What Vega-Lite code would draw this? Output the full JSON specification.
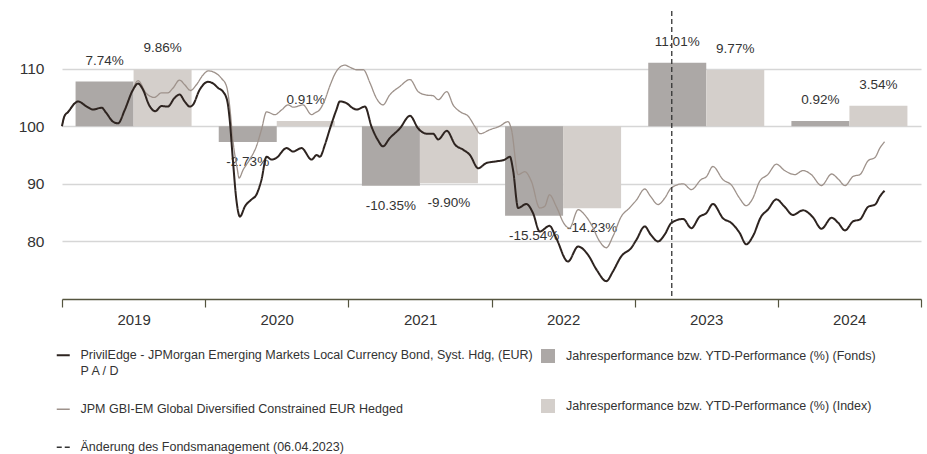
{
  "$schema": "https://vega.github.io/schema/vega-lite/v6.json",
  "width": 859,
  "height": 288,
  "autosize": {"type": "none"},
  "padding": {"left": 62, "top": 11, "right": 6, "bottom": 155},
  "background": "white",
  "config": {"view": {"stroke": null}, "font": "Liberation Sans"},
  "datasets": {
    "bars": [
      {"year": "2019", "type": "Jahresperformance bzw. YTD-Performance (%) (Fonds)", "pct": 7.74, "label": "7.74%"},
      {"year": "2019", "type": "Jahresperformance bzw. YTD-Performance (%) (Index)", "pct": 9.86, "label": "9.86%"},
      {"year": "2020", "type": "Jahresperformance bzw. YTD-Performance (%) (Fonds)", "pct": -2.73, "label": "-2.73%"},
      {"year": "2020", "type": "Jahresperformance bzw. YTD-Performance (%) (Index)", "pct": 0.91, "label": "0.91%"},
      {"year": "2021", "type": "Jahresperformance bzw. YTD-Performance (%) (Fonds)", "pct": -10.35, "label": "-10.35%"},
      {"year": "2021", "type": "Jahresperformance bzw. YTD-Performance (%) (Index)", "pct": -9.90, "label": "-9.90%"},
      {"year": "2022", "type": "Jahresperformance bzw. YTD-Performance (%) (Fonds)", "pct": -15.54, "label": "-15.54%"},
      {"year": "2022", "type": "Jahresperformance bzw. YTD-Performance (%) (Index)", "pct": -14.23, "label": "-14.23%"},
      {"year": "2023", "type": "Jahresperformance bzw. YTD-Performance (%) (Fonds)", "pct": 11.01, "label": "11.01%"},
      {"year": "2023", "type": "Jahresperformance bzw. YTD-Performance (%) (Index)", "pct": 9.77, "label": "9.77%"},
      {"year": "2024", "type": "Jahresperformance bzw. YTD-Performance (%) (Fonds)", "pct": 0.92, "label": "0.92%"},
      {"year": "2024", "type": "Jahresperformance bzw. YTD-Performance (%) (Index)", "pct": 3.54, "label": "3.54%"}
    ],
    "events": [{"d": "2023-04-06", "s": "change"}],
    "lines": [
      {"d": "2019-01-01", "s": "fund", "v": 100.0},
      {"d": "2019-01-07", "s": "fund", "v": 101.7},
      {"d": "2019-01-17", "s": "fund", "v": 102.5},
      {"d": "2019-02-03", "s": "fund", "v": 104.0},
      {"d": "2019-02-11", "s": "fund", "v": 104.3},
      {"d": "2019-03-05", "s": "fund", "v": 103.4},
      {"d": "2019-03-21", "s": "fund", "v": 102.9},
      {"d": "2019-04-12", "s": "fund", "v": 103.2},
      {"d": "2019-04-24", "s": "fund", "v": 102.3},
      {"d": "2019-05-11", "s": "fund", "v": 100.8},
      {"d": "2019-05-24", "s": "fund", "v": 100.5},
      {"d": "2019-06-10", "s": "fund", "v": 102.8},
      {"d": "2019-07-01", "s": "fund", "v": 106.3},
      {"d": "2019-07-14", "s": "fund", "v": 107.4},
      {"d": "2019-07-27", "s": "fund", "v": 106.3},
      {"d": "2019-08-11", "s": "fund", "v": 103.7},
      {"d": "2019-08-27", "s": "fund", "v": 102.6},
      {"d": "2019-09-12", "s": "fund", "v": 103.5},
      {"d": "2019-09-28", "s": "fund", "v": 103.4},
      {"d": "2019-10-15", "s": "fund", "v": 104.9},
      {"d": "2019-10-28", "s": "fund", "v": 105.5},
      {"d": "2019-11-10", "s": "fund", "v": 104.3},
      {"d": "2019-11-23", "s": "fund", "v": 103.4},
      {"d": "2019-12-01", "s": "fund", "v": 103.7},
      {"d": "2019-12-18", "s": "fund", "v": 106.3},
      {"d": "2020-01-09", "s": "fund", "v": 107.7},
      {"d": "2020-01-22", "s": "fund", "v": 107.4},
      {"d": "2020-02-04", "s": "fund", "v": 106.6},
      {"d": "2020-02-16", "s": "fund", "v": 106.0},
      {"d": "2020-02-27", "s": "fund", "v": 104.3},
      {"d": "2020-03-04", "s": "fund", "v": 101.1},
      {"d": "2020-03-12", "s": "fund", "v": 94.2},
      {"d": "2020-03-21", "s": "fund", "v": 87.2},
      {"d": "2020-03-30", "s": "fund", "v": 84.3},
      {"d": "2020-04-12", "s": "fund", "v": 86.1},
      {"d": "2020-04-29", "s": "fund", "v": 87.3},
      {"d": "2020-05-11", "s": "fund", "v": 88.1},
      {"d": "2020-05-24", "s": "fund", "v": 90.7},
      {"d": "2020-06-06", "s": "fund", "v": 94.7},
      {"d": "2020-06-19", "s": "fund", "v": 94.2},
      {"d": "2020-07-01", "s": "fund", "v": 94.5},
      {"d": "2020-07-27", "s": "fund", "v": 96.2},
      {"d": "2020-08-13", "s": "fund", "v": 95.6},
      {"d": "2020-09-03", "s": "fund", "v": 96.2},
      {"d": "2020-09-29", "s": "fund", "v": 94.2},
      {"d": "2020-10-12", "s": "fund", "v": 95.0},
      {"d": "2020-10-20", "s": "fund", "v": 94.7},
      {"d": "2020-11-02", "s": "fund", "v": 96.8},
      {"d": "2020-11-14", "s": "fund", "v": 99.4},
      {"d": "2020-12-01", "s": "fund", "v": 102.8},
      {"d": "2020-12-10", "s": "fund", "v": 104.3},
      {"d": "2020-12-27", "s": "fund", "v": 104.0},
      {"d": "2021-01-13", "s": "fund", "v": 103.1},
      {"d": "2021-01-22", "s": "fund", "v": 102.9},
      {"d": "2021-02-12", "s": "fund", "v": 103.4},
      {"d": "2021-03-01", "s": "fund", "v": 99.9},
      {"d": "2021-03-17", "s": "fund", "v": 97.6},
      {"d": "2021-03-30", "s": "fund", "v": 96.5},
      {"d": "2021-04-16", "s": "fund", "v": 97.9},
      {"d": "2021-05-12", "s": "fund", "v": 99.6},
      {"d": "2021-06-07", "s": "fund", "v": 101.8},
      {"d": "2021-06-28", "s": "fund", "v": 99.6},
      {"d": "2021-07-19", "s": "fund", "v": 98.7},
      {"d": "2021-08-05", "s": "fund", "v": 98.7},
      {"d": "2021-08-18", "s": "fund", "v": 97.7},
      {"d": "2021-09-09", "s": "fund", "v": 99.2},
      {"d": "2021-09-30", "s": "fund", "v": 96.8},
      {"d": "2021-10-21", "s": "fund", "v": 95.9},
      {"d": "2021-11-07", "s": "fund", "v": 95.0},
      {"d": "2021-11-28", "s": "fund", "v": 92.7},
      {"d": "2021-12-19", "s": "fund", "v": 93.6},
      {"d": "2022-01-14", "s": "fund", "v": 93.9},
      {"d": "2022-02-04", "s": "fund", "v": 94.2},
      {"d": "2022-02-17", "s": "fund", "v": 94.7},
      {"d": "2022-02-25", "s": "fund", "v": 92.4},
      {"d": "2022-03-10", "s": "fund", "v": 85.8},
      {"d": "2022-03-31", "s": "fund", "v": 86.5},
      {"d": "2022-04-17", "s": "fund", "v": 84.9},
      {"d": "2022-05-04", "s": "fund", "v": 81.7},
      {"d": "2022-05-29", "s": "fund", "v": 82.7},
      {"d": "2022-06-15", "s": "fund", "v": 80.6},
      {"d": "2022-07-15", "s": "fund", "v": 76.5},
      {"d": "2022-08-10", "s": "fund", "v": 79.1},
      {"d": "2022-09-04", "s": "fund", "v": 77.7},
      {"d": "2022-09-26", "s": "fund", "v": 75.1},
      {"d": "2022-10-21", "s": "fund", "v": 73.1},
      {"d": "2022-11-07", "s": "fund", "v": 74.8},
      {"d": "2022-11-28", "s": "fund", "v": 77.4},
      {"d": "2022-12-24", "s": "fund", "v": 78.9},
      {"d": "2023-01-06", "s": "fund", "v": 80.3},
      {"d": "2023-01-27", "s": "fund", "v": 82.6},
      {"d": "2023-02-11", "s": "fund", "v": 81.2},
      {"d": "2023-03-02", "s": "fund", "v": 80.0},
      {"d": "2023-03-19", "s": "fund", "v": 81.2},
      {"d": "2023-04-05", "s": "fund", "v": 83.2},
      {"d": "2023-05-05", "s": "fund", "v": 83.9},
      {"d": "2023-05-26", "s": "fund", "v": 82.3},
      {"d": "2023-06-16", "s": "fund", "v": 84.3},
      {"d": "2023-07-03", "s": "fund", "v": 84.9},
      {"d": "2023-07-20", "s": "fund", "v": 86.5},
      {"d": "2023-08-15", "s": "fund", "v": 84.0},
      {"d": "2023-09-05", "s": "fund", "v": 83.2},
      {"d": "2023-09-26", "s": "fund", "v": 81.5},
      {"d": "2023-10-13", "s": "fund", "v": 79.5},
      {"d": "2023-10-30", "s": "fund", "v": 80.9},
      {"d": "2023-11-20", "s": "fund", "v": 84.3},
      {"d": "2023-12-07", "s": "fund", "v": 85.5},
      {"d": "2023-12-29", "s": "fund", "v": 87.3},
      {"d": "2024-01-19", "s": "fund", "v": 86.0},
      {"d": "2024-02-09", "s": "fund", "v": 84.6},
      {"d": "2024-03-06", "s": "fund", "v": 85.4},
      {"d": "2024-03-31", "s": "fund", "v": 84.2},
      {"d": "2024-04-22", "s": "fund", "v": 82.2},
      {"d": "2024-05-18", "s": "fund", "v": 84.1},
      {"d": "2024-06-04", "s": "fund", "v": 83.2},
      {"d": "2024-06-21", "s": "fund", "v": 81.9},
      {"d": "2024-07-12", "s": "fund", "v": 83.5},
      {"d": "2024-07-29", "s": "fund", "v": 83.8},
      {"d": "2024-08-19", "s": "fund", "v": 86.0},
      {"d": "2024-09-06", "s": "fund", "v": 86.4},
      {"d": "2024-09-18", "s": "fund", "v": 87.8},
      {"d": "2024-09-30", "s": "fund", "v": 88.8},
      {"d": "2019-01-01", "s": "index", "v": 100.0},
      {"d": "2019-01-07", "s": "index", "v": 101.7},
      {"d": "2019-01-17", "s": "index", "v": 102.5},
      {"d": "2019-02-03", "s": "index", "v": 104.0},
      {"d": "2019-02-11", "s": "index", "v": 104.3},
      {"d": "2019-03-05", "s": "index", "v": 103.4},
      {"d": "2019-03-21", "s": "index", "v": 102.9},
      {"d": "2019-04-12", "s": "index", "v": 103.2},
      {"d": "2019-04-24", "s": "index", "v": 102.3},
      {"d": "2019-05-11", "s": "index", "v": 100.8},
      {"d": "2019-05-24", "s": "index", "v": 100.5},
      {"d": "2019-06-10", "s": "index", "v": 102.8},
      {"d": "2019-07-01", "s": "index", "v": 106.5},
      {"d": "2019-07-14", "s": "index", "v": 107.9},
      {"d": "2019-08-04", "s": "index", "v": 105.7},
      {"d": "2019-08-25", "s": "index", "v": 105.0},
      {"d": "2019-09-12", "s": "index", "v": 105.8},
      {"d": "2019-09-28", "s": "index", "v": 105.8},
      {"d": "2019-10-11", "s": "index", "v": 106.6},
      {"d": "2019-10-28", "s": "index", "v": 108.0},
      {"d": "2019-11-10", "s": "index", "v": 107.2},
      {"d": "2019-11-25", "s": "index", "v": 106.2},
      {"d": "2019-12-10", "s": "index", "v": 107.2},
      {"d": "2019-12-27", "s": "index", "v": 108.9},
      {"d": "2020-01-09", "s": "index", "v": 109.6},
      {"d": "2020-01-26", "s": "index", "v": 109.3},
      {"d": "2020-02-12", "s": "index", "v": 108.3},
      {"d": "2020-02-25", "s": "index", "v": 106.9},
      {"d": "2020-03-04", "s": "index", "v": 103.4},
      {"d": "2020-03-12", "s": "index", "v": 97.6},
      {"d": "2020-03-23", "s": "index", "v": 92.7},
      {"d": "2020-03-28", "s": "index", "v": 91.0},
      {"d": "2020-04-07", "s": "index", "v": 92.4},
      {"d": "2020-04-24", "s": "index", "v": 94.2},
      {"d": "2020-05-11", "s": "index", "v": 96.5},
      {"d": "2020-05-24", "s": "index", "v": 99.4},
      {"d": "2020-06-06", "s": "index", "v": 102.5},
      {"d": "2020-06-27", "s": "index", "v": 102.0},
      {"d": "2020-07-14", "s": "index", "v": 102.8},
      {"d": "2020-07-31", "s": "index", "v": 103.7},
      {"d": "2020-08-13", "s": "index", "v": 103.3},
      {"d": "2020-09-07", "s": "index", "v": 103.7},
      {"d": "2020-09-29", "s": "index", "v": 102.0},
      {"d": "2020-10-07", "s": "index", "v": 102.3},
      {"d": "2020-10-20", "s": "index", "v": 102.9},
      {"d": "2020-11-02", "s": "index", "v": 104.6},
      {"d": "2020-11-14", "s": "index", "v": 106.9},
      {"d": "2020-12-01", "s": "index", "v": 109.5},
      {"d": "2020-12-22", "s": "index", "v": 110.6},
      {"d": "2021-01-09", "s": "index", "v": 110.1},
      {"d": "2021-01-22", "s": "index", "v": 109.8},
      {"d": "2021-02-08", "s": "index", "v": 109.8},
      {"d": "2021-02-25", "s": "index", "v": 107.5},
      {"d": "2021-03-13", "s": "index", "v": 104.9},
      {"d": "2021-03-30", "s": "index", "v": 103.7},
      {"d": "2021-04-16", "s": "index", "v": 105.4},
      {"d": "2021-05-12", "s": "index", "v": 106.9},
      {"d": "2021-06-07", "s": "index", "v": 108.1},
      {"d": "2021-06-28", "s": "index", "v": 106.0},
      {"d": "2021-07-19", "s": "index", "v": 105.4},
      {"d": "2021-08-05", "s": "index", "v": 105.3},
      {"d": "2021-08-18", "s": "index", "v": 104.6},
      {"d": "2021-09-09", "s": "index", "v": 106.0},
      {"d": "2021-09-25", "s": "index", "v": 103.7},
      {"d": "2021-10-13", "s": "index", "v": 102.5},
      {"d": "2021-11-03", "s": "index", "v": 101.7},
      {"d": "2021-11-20", "s": "index", "v": 99.9},
      {"d": "2021-12-03", "s": "index", "v": 98.7},
      {"d": "2021-12-28", "s": "index", "v": 99.4},
      {"d": "2022-01-22", "s": "index", "v": 100.0},
      {"d": "2022-02-12", "s": "index", "v": 100.8},
      {"d": "2022-02-21", "s": "index", "v": 99.4},
      {"d": "2022-03-10", "s": "index", "v": 91.6},
      {"d": "2022-03-27", "s": "index", "v": 92.1},
      {"d": "2022-04-13", "s": "index", "v": 90.4},
      {"d": "2022-05-04", "s": "index", "v": 85.8},
      {"d": "2022-05-17", "s": "index", "v": 86.1},
      {"d": "2022-05-29", "s": "index", "v": 88.1},
      {"d": "2022-06-15", "s": "index", "v": 86.1},
      {"d": "2022-07-07", "s": "index", "v": 82.9},
      {"d": "2022-07-19", "s": "index", "v": 82.3},
      {"d": "2022-08-10", "s": "index", "v": 85.5},
      {"d": "2022-08-27", "s": "index", "v": 84.6},
      {"d": "2022-09-13", "s": "index", "v": 82.9},
      {"d": "2022-10-04", "s": "index", "v": 80.0},
      {"d": "2022-10-21", "s": "index", "v": 78.9},
      {"d": "2022-11-07", "s": "index", "v": 80.9},
      {"d": "2022-11-28", "s": "index", "v": 84.3},
      {"d": "2022-12-19", "s": "index", "v": 85.8},
      {"d": "2023-01-06", "s": "index", "v": 87.2},
      {"d": "2023-01-27", "s": "index", "v": 89.1},
      {"d": "2023-02-11", "s": "index", "v": 87.8},
      {"d": "2023-03-02", "s": "index", "v": 86.4},
      {"d": "2023-03-19", "s": "index", "v": 87.5},
      {"d": "2023-04-05", "s": "index", "v": 89.3},
      {"d": "2023-05-05", "s": "index", "v": 90.0},
      {"d": "2023-05-26", "s": "index", "v": 89.0},
      {"d": "2023-06-21", "s": "index", "v": 90.8},
      {"d": "2023-07-03", "s": "index", "v": 91.2},
      {"d": "2023-07-20", "s": "index", "v": 93.0},
      {"d": "2023-08-15", "s": "index", "v": 90.7},
      {"d": "2023-09-05", "s": "index", "v": 89.8},
      {"d": "2023-09-26", "s": "index", "v": 87.5},
      {"d": "2023-10-13", "s": "index", "v": 86.2},
      {"d": "2023-10-30", "s": "index", "v": 87.5},
      {"d": "2023-11-16", "s": "index", "v": 90.4},
      {"d": "2023-12-07", "s": "index", "v": 91.6},
      {"d": "2023-12-29", "s": "index", "v": 93.4},
      {"d": "2024-01-19", "s": "index", "v": 92.3},
      {"d": "2024-02-14", "s": "index", "v": 91.6},
      {"d": "2024-03-06", "s": "index", "v": 92.3},
      {"d": "2024-03-27", "s": "index", "v": 91.6},
      {"d": "2024-04-22", "s": "index", "v": 89.7},
      {"d": "2024-05-18", "s": "index", "v": 91.7},
      {"d": "2024-06-04", "s": "index", "v": 90.8},
      {"d": "2024-06-21", "s": "index", "v": 89.7},
      {"d": "2024-07-12", "s": "index", "v": 91.3},
      {"d": "2024-07-29", "s": "index", "v": 91.6},
      {"d": "2024-08-19", "s": "index", "v": 94.0},
      {"d": "2024-09-06", "s": "index", "v": 94.6},
      {"d": "2024-09-18", "s": "index", "v": 96.2},
      {"d": "2024-09-30", "s": "index", "v": 97.3}
    ]
  },
  "layer": [
    {
      "data": {"name": "bars"},
      "encoding": {
        "x": {"field": "year", "type": "ordinal", "scale": {"domain": ["2019", "2020", "2021", "2022", "2023", "2024"], "paddingInner": 0, "paddingOuter": 0}, "axis": null},
        "xOffset": {"field": "type", "type": "nominal", "scale": {"domain": ["Jahresperformance bzw. YTD-Performance (%) (Fonds)", "Jahresperformance bzw. YTD-Performance (%) (Index)"], "paddingInner": 0, "paddingOuter": 0.234}},
        "y": {"field": "pct", "type": "quantitative", "scale": {"domain": [-30, 20], "nice": false, "zero": false}, "axis": null}
      },
      "layer": [
        {
          "mark": {"type": "bar"},
          "encoding": {
            "fill": {
              "field": "type", "type": "nominal",
              "scale": {"domain": ["Jahresperformance bzw. YTD-Performance (%) (Fonds)", "Jahresperformance bzw. YTD-Performance (%) (Index)"], "range": ["#aca8a6", "#d4cfcb"]},
              "legend": {
                "title": null, "orient": "none", "legendX": 479, "legendY": 338, "direction": "vertical",
                "symbolType": "square", "symbolSize": 196, "symbolStrokeWidth": 0, "labelOffset": 11,
                "labelFont": "Liberation Sans", "labelFontSize": 12.5, "labelColor": "#333333", "labelLimit": 0, "rowPadding": 36
              }
            }
          }
        },
        {
          "transform": [{"filter": "datum.pct >= 0"}],
          "mark": {"type": "text", "baseline": "alphabetic", "dy": -17, "font": "Liberation Sans", "fontSize": 13.5, "color": "#333333"},
          "encoding": {"text": {"field": "label", "type": "nominal"}}
        },
        {
          "transform": [{"filter": "datum.pct < 0"}],
          "mark": {"type": "text", "baseline": "alphabetic", "dy": 24, "font": "Liberation Sans", "fontSize": 13.5, "color": "#333333"},
          "encoding": {"text": {"field": "label", "type": "nominal"}}
        }
      ]
    },
    {
      "encoding": {
        "x": {
          "field": "d", "type": "temporal",
          "scale": {"type": "utc", "domain": [{"year": 2019, "month": 1, "date": 1, "utc": true}, {"year": 2025, "month": 1, "date": 1, "utc": true}]},
          "axis": {
            "title": null, "grid": false, "orient": "bottom",
            "values": [
              {"year": 2019, "month": 1, "date": 1, "utc": true},
              {"year": 2020, "month": 1, "date": 1, "utc": true},
              {"year": 2021, "month": 1, "date": 1, "utc": true},
              {"year": 2022, "month": 1, "date": 1, "utc": true},
              {"year": 2023, "month": 1, "date": 1, "utc": true},
              {"year": 2024, "month": 1, "date": 1, "utc": true},
              {"year": 2025, "month": 1, "date": 1, "utc": true}
            ],
            "format": "%Y",
            "labelExpr": "utcyear(datum.value) >= 2025 ? '' : datum.label",
            "labelOffset": 71.6, "labelAlign": "center", "labelFlush": false, "labelOverlap": false,
            "labelFont": "Liberation Sans", "labelFontSize": 15, "labelColor": "#333333", "labelPadding": 5,
            "domainColor": "#55553f", "domainWidth": 1.5, "tickColor": "#55553f", "tickSize": 8, "tickWidth": 1.2
          }
        }
      },
      "layer": [
        {
          "data": {"name": "lines"},
          "encoding": {
            "y": {
              "field": "v", "type": "quantitative",
              "scale": {"domain": [70, 120], "nice": false, "zero": false},
              "axis": {
                "title": null, "values": [80, 90, 100, 110], "grid": true, "gridColor": "#d6d6d6", "gridWidth": 1.5,
                "domain": false, "ticks": false, "labelPadding": 18, "labelFont": "Liberation Sans", "labelFontSize": 15.5, "labelColor": "#333333"
              }
            },
            "color": {
              "field": "s", "type": "nominal",
              "scale": {"domain": ["fund", "index", "change"], "range": ["#2e2420", "#9e928b", "#333333"]},
              "legend": {
                "title": null, "orient": "none", "legendX": -5, "legendY": 338, "direction": "vertical",
                "symbolType": "stroke", "symbolSize": 169, "symbolStrokeWidth": 2, "labelOffset": 11,
                "labelFont": "Liberation Sans", "labelFontSize": 12.5, "labelColor": "#333333", "labelLimit": 0, "rowPadding": 25,
                "labelExpr": "datum.value == 'fund' ? ['PrivilEdge - JPMorgan Emerging Markets Local Currency Bond, Syst. Hdg, (EUR)', 'P A / D'] : datum.value == 'index' ? 'JPM GBI-EM Global Diversified Constrained EUR Hedged' : 'Änderung des Fondsmanagement (06.04.2023)'",
                "encode": {
                  "symbols": {"update": {"strokeWidth": {"signal": "datum.value == 'index' ? 1.5 : datum.value == 'change' ? 1.3 : 2.2"}}},
                  "labels": {"update": {"lineHeight": {"value": 16}}}
                }
              }
            },
            "strokeDash": {
              "field": "s", "type": "nominal",
              "scale": {"domain": ["fund", "index", "change"], "range": [[1, 0], [1, 0], [5, 3]]},
              "legend": null
            }
          },
          "layer": [
            {
              "transform": [{"filter": "datum.s == 'index'"}],
              "mark": {"type": "line", "interpolate": "monotone", "strokeWidth": 1.3}
            },
            {
              "transform": [{"filter": "datum.s == 'fund'"}],
              "mark": {"type": "line", "interpolate": "monotone", "strokeWidth": 2}
            }
          ]
        },
        {
          "data": {"name": "events"},
          "mark": {"type": "rule", "strokeWidth": 1.3},
          "encoding": {
            "color": {"field": "s", "type": "nominal"},
            "strokeDash": {"field": "s", "type": "nominal", "legend": null}
          }
        }
      ]
    }
  ],
  "resolve": {"scale": {"x": "independent", "y": "independent"}}
}
